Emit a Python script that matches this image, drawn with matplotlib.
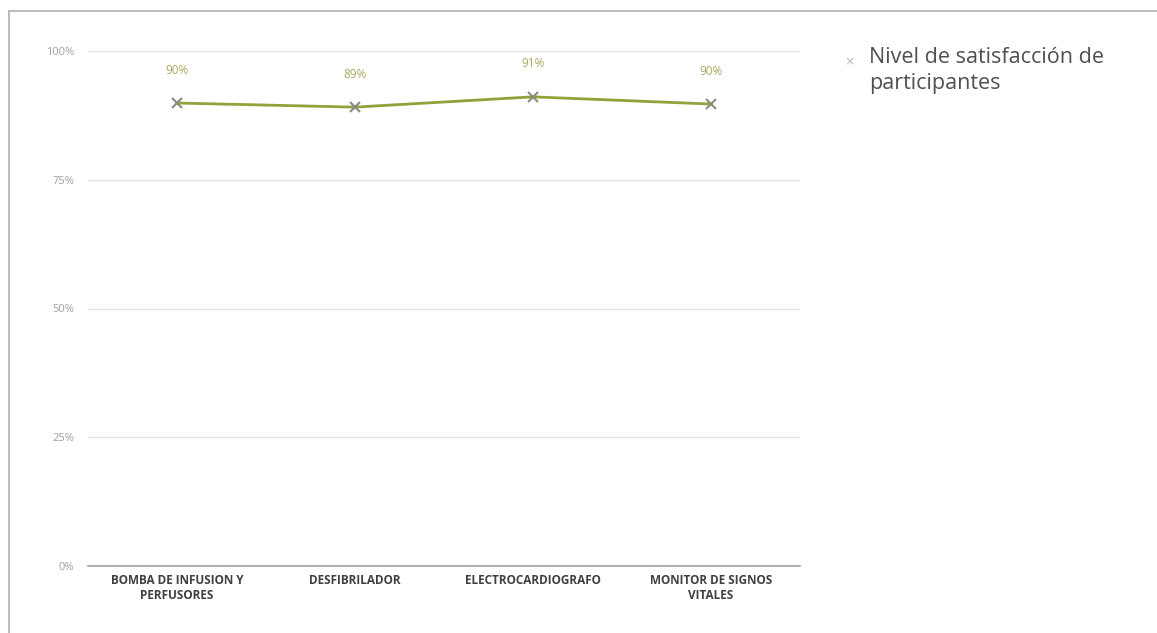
import matplotlib
matplotlib.use("Agg")
import matplotlib.pyplot as plt
from matplotlib.lines import Line2D
from matplotlib.ticker import PercentFormatter

categories = ["BOMBA DE INFUSION Y\nPERFUSORES", "DESFIBRILADOR",
              "ELECTROCARDIOGRAFO", "MONITOR DE SIGNOS\nVITALES"]
values = [0.899, 0.891, 0.911, 0.897]
series_name = "Nivel de satisfacción de\nparticipantes"
yticks = [0, 0.25, 0.5, 0.75, 1.0]

W, H = 1157, 633
fig = plt.figure(figsize=(W / 100, H / 100), dpi=100)
fig.patch.set_facecolor("white")

ax = fig.add_axes([88 / W, 1 - 566 / H, (800 - 88) / W, (566 - 51) / H])
x = list(range(len(categories)))
line_color = "#8FA33C"
ax.plot(x, values, color=line_color, lw=2, zorder=3)
ax.plot(x, values, ls="none", marker="x", ms=7, mew=1.5, color="#8C8C7C", zorder=4)
for xi, v in zip(x, values):
    ax.annotate(f"{round(v * 100):.0f}%", (xi, v), xytext=(0, 19), textcoords="offset points",
                ha="center", va="bottom", fontsize=8.5, color="#A8A860", family="Open Sans")

ax.set_xlim(-0.5, len(categories) - 0.5)
ax.set_ylim(0, 1.0)
ax.set_yticks(yticks)
ax.yaxis.set_major_formatter(PercentFormatter(1.0, decimals=0))
ax.grid(axis="y", color="#E4E4E4", lw=1)
ax.set_axisbelow(True)
for s in ["top", "right", "left"]:
    ax.spines[s].set_visible(False)
ax.spines["bottom"].set_color("#A0A0A0")
ax.spines["bottom"].set_linewidth(1.2)
ax.tick_params(axis="y", length=0, labelsize=8, labelcolor="#A0A0A0", pad=10)
ax.tick_params(axis="x", length=0, pad=6)
ax.set_xticks(x)
ax.set_xticklabels(categories, fontsize=8.5, color="#404040", fontweight="bold",
                   family="Open Sans", linespacing=1.2)
for t in ax.get_yticklabels():
    t.set_family("Open Sans")

# legend
fig.text(850 / W, 1 - 62 / H, "×", fontsize=9, color="#B8B8B8", ha="center", va="center", family="DejaVu Sans")
fig.text(869 / W, 1 - 47 / H, series_name, fontsize=15.5, color="#505050", ha="left", va="top",
         family="Open Sans", linespacing=1.3)

# frame lines
fig.add_artist(Line2D([9 / W, 1.0], [1 - 11 / H, 1 - 11 / H], color="#B0B0B0", lw=1.2, transform=fig.transFigure))
fig.add_artist(Line2D([9 / W, 9 / W], [0, 1 - 11 / H], color="#B0B0B0", lw=1.2, transform=fig.transFigure))

fig.savefig("out.png", dpi=100)
